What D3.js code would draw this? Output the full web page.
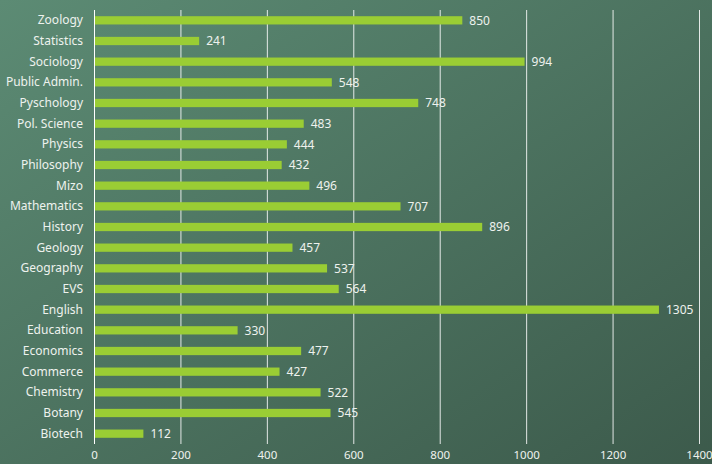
<!DOCTYPE html>
<html><head><meta charset="utf-8">
<script src="https://cdn.jsdelivr.net/npm/d3@7"></script>
<style>html,body{margin:0;padding:0;overflow:hidden;}svg{display:block;}</style>
</head><body>
<svg id="c" width="712" height="464"></svg>
<script>
const categories = ["Zoology","Statistics","Sociology","Public Admin.","Pyschology","Pol. Science","Physics","Philosophy","Mizo","Mathematics","History","Geology","Geography","EVS","English","Education","Economics","Commerce","Chemistry","Botany","Biotech"];
const values = [850,241,994,548,748,483,444,432,496,707,896,457,537,564,1305,330,477,427,522,545,112];
const tickValues = [0,200,400,600,800,1000,1200,1400];

const W = 712, H = 464;
const m = {left: 94, right: 13, top: 10, bottom: 20};
const svg = d3.select("#c");
const defs = svg.append("defs");
const g = defs.append("linearGradient").attr("id","bg").attr("x1","0").attr("y1","0").attr("x2","1").attr("y2","1");
g.append("stop").attr("offset","0").attr("stop-color","#5c8b74");
g.append("stop").attr("offset","1").attr("stop-color","#3c5a4b");
svg.append("rect").attr("width",W).attr("height",H).attr("fill","url(#bg)");

const x = d3.scaleLinear().domain([0,1400]).range([m.left, W - m.right]);
const y = d3.scaleBand().domain(categories).range([m.top, H - m.bottom]).paddingInner(0.6).paddingOuter(0.3);
const font = "'Noto Sans', sans-serif";

svg.append("g").selectAll("line").data(tickValues).join("line")
  .attr("x1", d => x(d) + 0.5).attr("x2", d => x(d) + 0.5)
  .attr("y1", m.top).attr("y2", H - m.bottom)
  .attr("stroke", "#ffffff").attr("stroke-width", 1).attr("opacity", d => d === 0 ? 1 : 0.85);

svg.append("g").selectAll("rect").data(categories).join("rect")
  .attr("x", x(0) + 1).attr("y", d => y(d))
  .attr("width", (d,i) => x(values[i]) - x(0)).attr("height", y.bandwidth())
  .attr("fill", "#9acd34");

svg.append("g").selectAll("text").data(categories).join("text")
  .attr("x", (d,i) => x(values[i]) + 8).attr("y", d => y(d) + y.bandwidth()/2)
  .attr("dy", "0.35em").attr("fill", "#eef2ee").attr("font-family", font).attr("font-size", 12)
  .text((d,i) => values[i]);

const yAxis = svg.append("g").attr("transform", `translate(${x(0)},0)`)
  .call(d3.axisLeft(y).tickSize(0).tickPadding(11));
yAxis.select(".domain").remove();
yAxis.selectAll("text").attr("fill","#eef2ee").attr("font-family",font).attr("font-size",12);

const xAxis = svg.append("g").attr("transform", `translate(0,${H - m.bottom})`)
  .call(d3.axisBottom(x).tickValues(tickValues).tickFormat(d3.format("d")).tickSize(0).tickPadding(7));
xAxis.select(".domain").remove();
xAxis.selectAll("text").attr("fill","#eef2ee").attr("font-family",font).attr("font-size",11.5);
</script>
</body></html>
